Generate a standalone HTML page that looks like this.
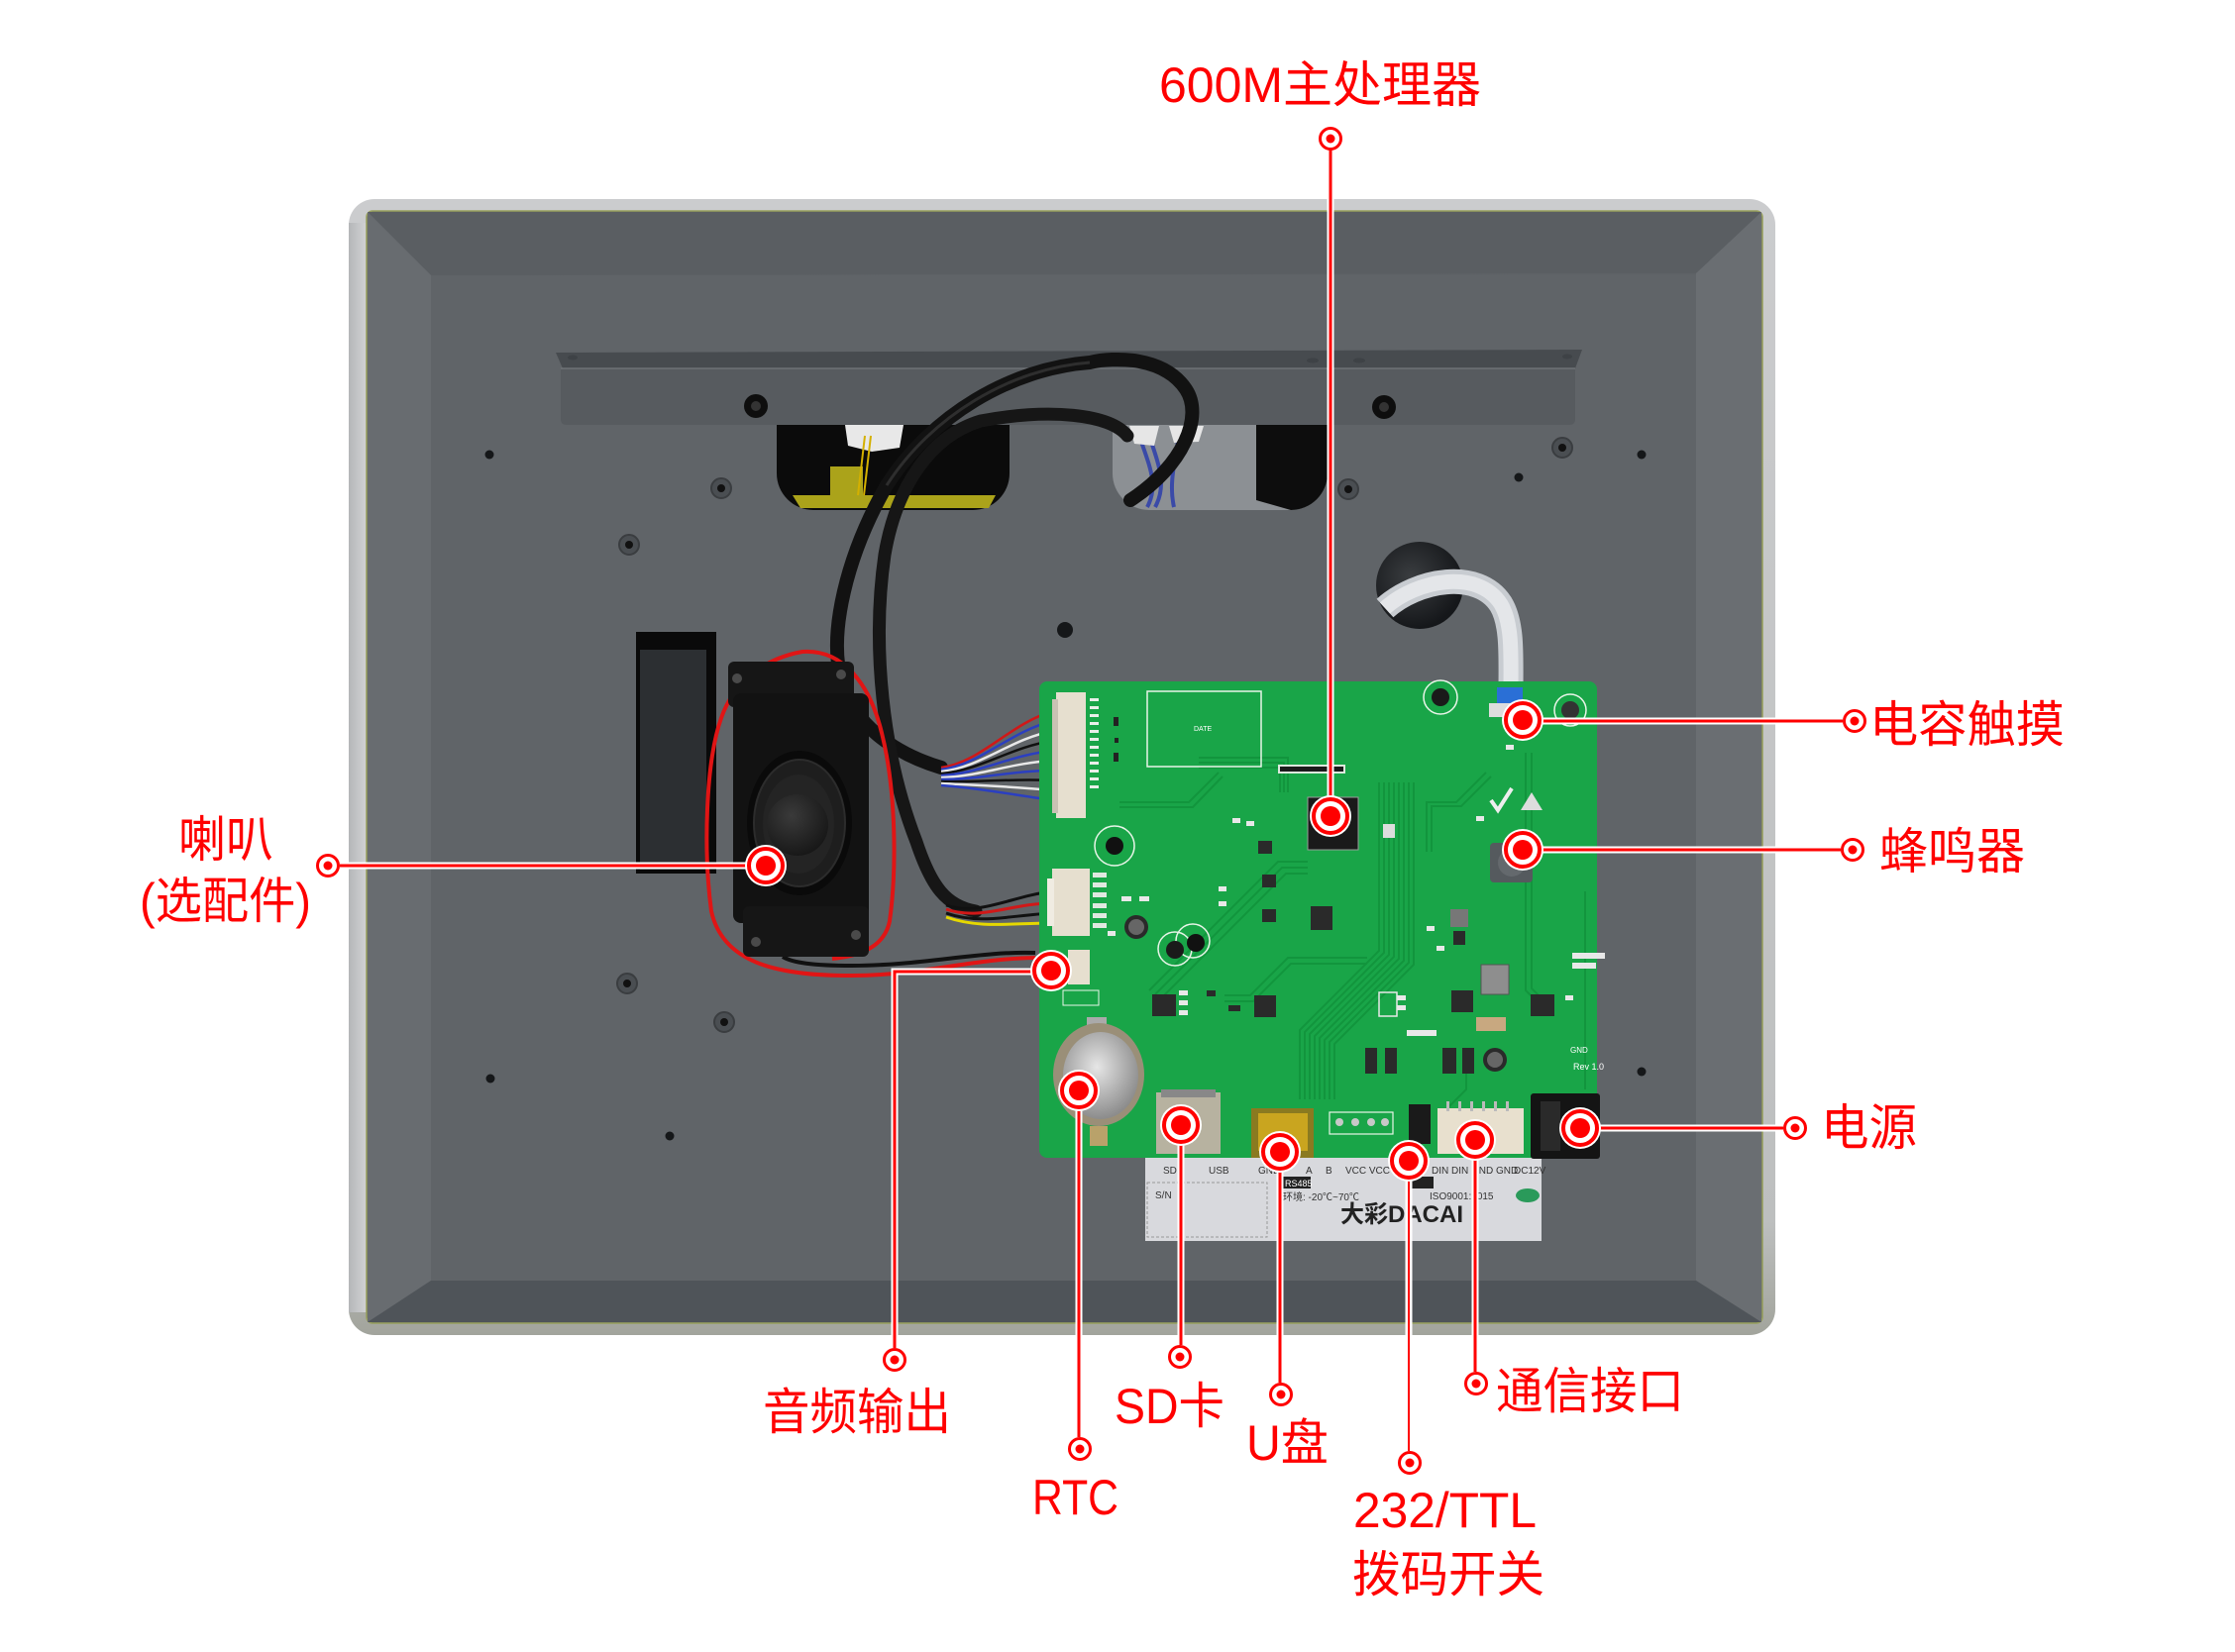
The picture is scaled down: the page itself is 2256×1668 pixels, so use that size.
<!DOCTYPE html>
<html><head><meta charset="utf-8"><style>
html,body{margin:0;padding:0;background:#fff;width:2256px;height:1668px;overflow:hidden}
svg{display:block}
.lb{font-family:"Liberation Sans","Noto Sans CJK SC",sans-serif;font-size:50px;fill:#f00}
.sm{font-family:"Liberation Sans","Noto Sans CJK SC",sans-serif;fill:#fff}
.st{font-family:"Liberation Sans","Noto Sans CJK SC",sans-serif;fill:#333}
</style></head><body>
<svg xmlns="http://www.w3.org/2000/svg" width="2256" height="1668" viewBox="0 0 2256 1668">
<defs>
<linearGradient id="brd" x1="0" y1="0" x2="0" y2="1"><stop offset="0" stop-color="#cbccce"/><stop offset="0.9" stop-color="#bdbfbf"/><stop offset="1" stop-color="#a2a49c"/></linearGradient>
<linearGradient id="brl" x1="0" y1="0" x2="1" y2="0"><stop offset="0" stop-color="#b4b6b8"/><stop offset="1" stop-color="#d2d3d5"/></linearGradient>
<radialGradient id="hole" cx="0.4" cy="0.4" r="0.6"><stop offset="0" stop-color="#3a3d40"/><stop offset="1" stop-color="#15171a"/></radialGradient>
<radialGradient id="dome" cx="0.4" cy="0.35" r="0.7"><stop offset="0" stop-color="#3a3a3a"/><stop offset="1" stop-color="#161616"/></radialGradient>
<radialGradient id="coin" cx="0.45" cy="0.4" r="0.6"><stop offset="0" stop-color="#e6e6e6"/><stop offset="1" stop-color="#8c8c8c"/></radialGradient>
</defs>
<rect width="2256" height="1668" fill="#fff"/>

<!-- Panel -->
<rect x="352" y="201" width="1440" height="1147" rx="26" fill="url(#brd)"/>
<rect x="352" y="225" width="18" height="1100" fill="url(#brl)"/>
<rect x="370" y="213" width="1409" height="1123" rx="6" fill="#5f6367" stroke="#97a05c" stroke-width="1.5"/>
<polygon points="371,214 1778,214 1712,276 435,278" fill="#5a5e62"/>
<polygon points="371,214 435,278 435,1293 371,1335" fill="#686c70"/>
<polygon points="1778,214 1778,1335 1712,1293 1712,276" fill="#6a6e72"/>
<polygon points="371,1335 435,1293 1712,1293 1778,1335" fill="#4f5459"/>
<rect x="435" y="278" width="1277" height="1015" fill="#606468"/>

<!-- holes / standoffs -->
<g fill="#151719">
<circle cx="494" cy="459" r="4.5"/><circle cx="1657" cy="459" r="4.5"/><circle cx="1533" cy="482" r="4.5"/>
<circle cx="495" cy="1089" r="4.5"/><circle cx="676" cy="1147" r="4.5"/><circle cx="1657" cy="1082" r="4.5"/>
<circle cx="1075" cy="636" r="8"/>
</g>
<g fill="#4a4e52" stroke="#3a3d40" stroke-width="2">
<circle cx="728" cy="493" r="10"/><circle cx="635" cy="550" r="10"/><circle cx="1577" cy="452" r="10"/>
<circle cx="1361" cy="494" r="10"/><circle cx="633" cy="993" r="10"/><circle cx="731" cy="1032" r="10"/>
</g>
<g fill="#111">
<circle cx="728" cy="493" r="4"/><circle cx="635" cy="550" r="4"/><circle cx="1577" cy="452" r="4"/>
<circle cx="1361" cy="494" r="4"/><circle cx="633" cy="993" r="4"/><circle cx="731" cy="1032" r="4"/>
</g>

<!-- openings -->
<path d="M784 429 L1019 429 L1019 478 A37 37 0 0 1 982 515 L821 515 A37 37 0 0 1 784 478 Z" fill="#0b0b0b"/>
<path d="M800 500 L1005 500 L998 513 L808 513 Z" fill="#aba31a"/>
<rect x="838" y="471" width="33" height="34" fill="#aba31a"/>
<path d="M853 429 L912 429 L908 452 L880 456 L856 450 Z" fill="#e8e8e8"/>
<path d="M873 440 L866 500 M879 440 L872 500" stroke="#d4b000" stroke-width="2"/>
<path d="M1123 429 L1340 429 L1340 478 A37 37 0 0 1 1303 515 L1160 515 A37 37 0 0 1 1123 478 Z" fill="#8c9094"/>
<path d="M1268 429 L1340 429 L1340 478 A37 37 0 0 1 1303 515 L1268 505 Z" fill="#0d0d0d"/>
<path d="M1150 440 C1160 470 1170 490 1158 512 M1160 440 C1170 470 1178 490 1166 512 M1190 440 C1185 470 1180 490 1185 512" stroke="#3a4aa8" stroke-width="4" fill="none"/>
<path d="M1140 430 L1170 430 L1165 450 L1145 448 Z M1180 430 L1215 430 L1210 446 L1185 447 Z" fill="#e6e6e6"/>

<!-- bracket -->
<path d="M561 356 L1597 353 L1590 372 L568 372 Z" fill="#474b4f"/>
<path d="M566 372 L1590 372 L1590 423 Q1590 429 1584 429 L572 429 Q566 429 566 423 Z" fill="#575b5f"/>
<path d="M566 372 L1590 372" stroke="#6e7276" stroke-width="1.5"/>
<circle cx="763" cy="410" r="12" fill="#0e0e0e"/><circle cx="763" cy="410" r="5" fill="#333"/>
<circle cx="1397" cy="411" r="12" fill="#0e0e0e"/><circle cx="1397" cy="411" r="5" fill="#333"/>
<g fill="#3e4246"><ellipse cx="1325" cy="364" rx="6" ry="2.5"/><ellipse cx="1372" cy="364" rx="6" ry="2.5"/><ellipse cx="1582" cy="360" rx="5" ry="2.5"/><ellipse cx="578" cy="361" rx="5" ry="2.5"/></g>

<!-- touch hole & ribbon -->
<circle cx="1433" cy="591" r="44" fill="url(#hole)"/>
<path d="M1398 614 C1430 585 1492 574 1515 610 C1527 630 1525 662 1525 700" stroke="#c8ccd1" stroke-width="25" fill="none"/>
<path d="M1398 614 C1430 585 1492 574 1515 610 C1527 630 1525 662 1525 700" stroke="#e4e6e9" stroke-width="15" fill="none"/>

<!-- speaker slot -->
<rect x="642" y="638" width="81" height="244" fill="#0a0a0a"/>
<rect x="646" y="656" width="67" height="222" fill="#2c2f32"/>

<!-- cables -->
<path d="M1141 505 C1195 470 1215 420 1197 393 C1175 360 1125 360 1100 366 C1020 372 940 420 895 490 C855 560 835 640 850 690 C862 730 900 760 950 775" stroke="#121212" stroke-width="14" fill="none" stroke-linecap="round"/>
<path d="M1138 440 C1120 418 1060 412 990 425 C940 440 905 490 893 560 C880 650 890 760 925 850 C940 895 955 915 985 920" stroke="#161616" stroke-width="13" fill="none" stroke-linecap="round"/>
<path d="M1100 366 C1020 372 940 420 895 490" stroke="#2e2e2e" stroke-width="3" fill="none"/>

<!-- speaker -->
<path d="M1045 967 C980 968 930 985 860 985 C790 985 730 975 718 920 C710 860 712 770 728 725 C740 690 770 665 810 658 C850 655 878 690 890 740 C905 800 905 880 898 930 C893 955 870 965 840 968" stroke="#e01515" stroke-width="4" fill="none"/>
<path d="M1045 962 C990 960 930 975 860 975 C820 975 800 972 790 966" stroke="#111" stroke-width="4" fill="none"/>
<rect x="735" y="668" width="127" height="46" rx="6" fill="#161616"/>
<rect x="740" y="700" width="137" height="232" rx="8" fill="#121212"/>
<rect x="750" y="915" width="127" height="51" rx="6" fill="#161616"/>
<g fill="#4a4a4a"><circle cx="744" cy="685" r="5"/><circle cx="849" cy="681" r="5"/><circle cx="763" cy="951" r="5"/><circle cx="864" cy="944" r="5"/></g>
<ellipse cx="807" cy="831" rx="53" ry="73" fill="#0a0a0a"/>
<ellipse cx="807" cy="831" rx="46" ry="64" fill="#1e1e1e" stroke="#2c2c2c" stroke-width="2"/>
<ellipse cx="806" cy="832" rx="36" ry="50" fill="#242424"/>
<circle cx="805" cy="833" r="31" fill="url(#dome)"/>

<!-- wires to PCB -->
<g fill="none" stroke-width="2.5">
<path d="M950 775 C990 770 1020 730 1063 718" stroke="#d01818"/>
<path d="M950 777 C990 772 1020 738 1063 728" stroke="#2b3fc0"/>
<path d="M950 779 C990 775 1020 746 1063 738" stroke="#e8e8e8"/>
<path d="M950 781 C990 778 1020 754 1063 748" stroke="#111"/>
<path d="M950 783 C990 781 1020 762 1063 758" stroke="#2b3fc0"/>
<path d="M950 785 C990 784 1020 770 1063 768" stroke="#e8e8e8"/>
<path d="M950 787 C990 787 1020 778 1063 778" stroke="#2b3fc0"/>
<path d="M950 789 C990 790 1020 786 1063 788" stroke="#111"/>
<path d="M950 791 C990 793 1020 794 1063 798" stroke="#e8e8e8"/>
<path d="M950 793 C990 796 1020 802 1063 808" stroke="#2b3fc0"/>
</g>
<g fill="none" stroke-width="3">
<path d="M955 914 C990 925 1020 905 1062 900" stroke="#111"/>
<path d="M955 918 C990 930 1020 912 1062 912" stroke="#d01818"/>
<path d="M955 922 C990 934 1020 924 1062 922" stroke="#111"/>
<path d="M955 926 C990 938 1020 932 1062 932" stroke="#e6d800"/>
</g>

<!-- sticker -->
<rect x="1156" y="1160" width="400" height="93" fill="#d8d9dd"/>
<rect x="1158" y="1194" width="121" height="55" fill="none" stroke="#999" stroke-width="1" stroke-dasharray="3 2"/>
<g class="st" font-size="10">
<text x="1174" y="1185">SD</text><text x="1220" y="1185">USB</text><text x="1270" y="1185">GND</text>
<text x="1318" y="1185">A</text><text x="1338" y="1185">B</text><text x="1358" y="1185">VCC VCC</text>
<text x="1445" y="1185">DIN DIN GND GND</text><text x="1528" y="1185">DC12V</text>
<text x="1166" y="1210">S/N</text><text x="1295" y="1212">环境: -20℃~70℃</text>
<text x="1443" y="1211">ISO9001:2015</text>
</g>
<rect x="1295" y="1188" width="28" height="12" fill="#222"/><text class="sm" x="1297" y="1198" font-size="9">RS485</text>
<rect x="1425" y="1188" width="22" height="12" fill="#222"/>
<ellipse cx="1542" cy="1207" rx="12" ry="7" fill="#2a9a5a"/>
<text x="1353" y="1234" font-family="'Liberation Sans','Noto Sans CJK SC',sans-serif" font-size="24" font-weight="bold" fill="#222">大彩DACAI</text>

<!-- PCB -->
<rect x="1049" y="688" width="563" height="481" rx="8" fill="#19a548"/>
<g stroke="#12953d" stroke-width="2" fill="none">
<path d="M1392 790 V960 L1312 1040 V1110"/><path d="M1397 790 V962 L1317 1042 V1110"/><path d="M1402 790 V964 L1322 1044 V1110"/>
<path d="M1407 790 V966 L1327 1046 V1110"/><path d="M1412 790 V968 L1332 1048 V1110"/><path d="M1417 790 V970 L1337 1050 V1110"/>
<path d="M1422 790 V972 L1342 1052 V1110"/><path d="M1427 790 V974 L1347 1054 V1110"/>
<path d="M1160 1000 L1290 870 H1320"/><path d="M1166 1004 L1294 876 H1320"/><path d="M1172 1008 L1298 882 H1320"/>
<path d="M1210 765 H1300 V800"/><path d="M1210 770 H1296 V800"/><path d="M1210 775 H1292 V800"/>
<path d="M1130 810 H1200 L1230 780"/><path d="M1130 815 H1204 L1234 784"/>
<path d="M1500 780 L1470 810 H1440 V860"/><path d="M1505 784 L1475 814 H1445 V860"/>
<path d="M1540 760 V1000 L1560 1020"/><path d="M1546 760 V998 L1566 1018"/>
<path d="M1236 1005 H1262 L1300 967 H1380"/><path d="M1236 1011 H1265 L1303 973 H1380"/>
<path d="M1480 1060 V1100 L1460 1120"/><path d="M1600 900 V1100"/>
</g>
<!-- silkscreen boxes -->
<rect x="1158" y="698" width="115" height="76" fill="none" stroke="#e8f5e8" stroke-width="1.5"/>
<text class="sm" x="1205" y="738" font-size="7">DATE</text>
<!-- J9 -->
<rect x="1066" y="699" width="30" height="127" fill="#e6dfcf"/>
<rect x="1062" y="706" width="6" height="115" fill="#c8c2b4"/>
<g fill="#f2f2f2"><rect x="1100" y="702" width="14" height="118" fill="none" stroke="#dfe" stroke-width="0"/></g>
<g fill="#e9efe9">
<rect x="1100" y="705" width="9" height="3"/><rect x="1100" y="713" width="9" height="3"/><rect x="1100" y="721" width="9" height="3"/>
<rect x="1100" y="729" width="9" height="3"/><rect x="1100" y="737" width="9" height="3"/><rect x="1100" y="745" width="9" height="3"/>
<rect x="1100" y="753" width="9" height="3"/><rect x="1100" y="761" width="9" height="3"/><rect x="1100" y="769" width="9" height="3"/>
<rect x="1100" y="777" width="9" height="3"/><rect x="1100" y="785" width="9" height="3"/><rect x="1100" y="793" width="9" height="3"/>
</g>
<g fill="#222"><rect x="1124" y="724" width="5" height="9"/><rect x="1124" y="760" width="5" height="9"/><rect x="1125" y="745" width="4" height="5"/></g>
<!-- CPU area -->
<g fill="#dde8dd"><rect x="1290" y="772" width="68" height="9"/></g>
<g fill="#1b1b1b"><rect x="1292" y="774" width="64" height="5"/></g>
<rect x="1320" y="805" width="51" height="53" fill="#1a1a1a" stroke="#9a9a9a" stroke-width="1"/>
<rect x="1396" y="832" width="12" height="14" fill="#ddd"/>
<g fill="#2a2a2a">
<rect x="1270" y="849" width="14" height="13"/><rect x="1274" y="883" width="14" height="13"/><rect x="1274" y="918" width="14" height="13"/>
<rect x="1323" y="915" width="22" height="24"/><rect x="1163" y="1004" width="24" height="22"/><rect x="1266" y="1005" width="22" height="22"/>
<rect x="1465" y="1000" width="22" height="22"/><rect x="1545" y="1004" width="24" height="22"/><rect x="1467" y="940" width="12" height="14"/>
<rect x="1456" y="1058" width="14" height="26"/><rect x="1476" y="1058" width="12" height="26"/>
<rect x="1378" y="1058" width="12" height="26"/><rect x="1398" y="1058" width="12" height="26"/>
<rect x="1218" y="1000" width="9" height="6"/><rect x="1240" y="1015" width="12" height="6"/>
</g>
<g fill="#e8e8e8">
<rect x="1244" y="826" width="8" height="5"/><rect x="1258" y="829" width="8" height="5"/><rect x="1230" y="895" width="8" height="5"/>
<rect x="1230" y="910" width="8" height="5"/><rect x="1132" y="905" width="10" height="5"/><rect x="1150" y="905" width="10" height="5"/>
<rect x="1190" y="1000" width="9" height="5"/><rect x="1190" y="1010" width="9" height="5"/><rect x="1190" y="1020" width="9" height="5"/>
<rect x="1410" y="1005" width="9" height="5"/><rect x="1410" y="1015" width="9" height="5"/><rect x="1420" y="1040" width="30" height="6"/>
<rect x="1440" y="935" width="8" height="5"/><rect x="1450" y="955" width="8" height="5"/><rect x="1580" y="1005" width="8" height="5"/>
<rect x="1587" y="962" width="33" height="6"/><rect x="1587" y="972" width="24" height="6"/>
<rect x="1118" y="940" width="8" height="5"/><rect x="1490" y="824" width="8" height="5"/><rect x="1520" y="752" width="8" height="5"/>
</g>
<rect x="1392" y="1002" width="18" height="24" fill="none" stroke="#e8e8e8" stroke-width="1.5"/>
<!-- inductors / caps -->
<rect x="1495" y="974" width="28" height="30" fill="#8e8e8e" stroke="#555" stroke-width="1"/>
<rect x="1464" y="918" width="18" height="18" fill="#777"/>
<circle cx="1147" cy="936" r="12" fill="#2a2a2a"/><circle cx="1147" cy="936" r="8" fill="#666"/>
<circle cx="1509" cy="1070" r="12" fill="#2a2a2a"/><circle cx="1509" cy="1070" r="8" fill="#666"/>
<rect x="1490" y="1027" width="30" height="14" fill="#c8a880"/>
<!-- logos -->
<path d="M1505 808 L1512 818 L1526 796" stroke="#eee" stroke-width="4" fill="none"/>
<path d="M1535 818 L1546 800 L1557 818 Z" fill="#ddd"/>
<!-- mounting holes -->
<circle cx="1125" cy="854" r="20" fill="none" stroke="#e8f5e8" stroke-width="1.5"/><circle cx="1125" cy="854" r="9" fill="#111"/>
<circle cx="1186" cy="958" r="17" fill="none" stroke="#e8f5e8" stroke-width="1.5"/><circle cx="1204" cy="950" r="17" fill="none" stroke="#e8f5e8" stroke-width="1.5"/>
<circle cx="1186" cy="959" r="9" fill="#1a1a1a"/><circle cx="1207" cy="952" r="9" fill="#111"/>
<circle cx="1454" cy="704" r="17" fill="none" stroke="#e8f5e8" stroke-width="1.5"/><circle cx="1454" cy="704" r="9" fill="#1a1a1a"/>
<circle cx="1585" cy="717" r="16" fill="none" stroke="#e8f5e8" stroke-width="1.5"/><circle cx="1585" cy="717" r="9" fill="#333"/>
<!-- touch connector + fpc tip -->
<rect x="1511" y="694" width="26" height="17" fill="#2a6fd6"/>
<rect x="1503" y="710" width="28" height="14" fill="#ddd"/>
<!-- buzzer -->
<rect x="1504" y="851" width="43" height="40" rx="4" fill="#555a5e"/>
<circle cx="1526" cy="871" r="14" fill="#64696d"/>
<!-- J4 / J2 -->
<rect x="1062" y="877" width="38" height="68" fill="#e6dfcf"/><rect x="1057" y="887" width="7" height="48" fill="#f0ece2"/>
<rect x="1078" y="959" width="22" height="35" fill="#e6dfcf"/>
<g fill="#e0e8e0"><rect x="1103" y="881" width="14" height="5"/><rect x="1103" y="891" width="14" height="5"/><rect x="1103" y="901" width="14" height="5"/><rect x="1103" y="912" width="14" height="5"/><rect x="1103" y="922" width="14" height="5"/><rect x="1103" y="932" width="14" height="5"/></g>
<rect x="1073" y="1000" width="36" height="15" fill="none" stroke="#e8f5e8" stroke-width="1"/>
<!-- battery -->
<rect x="1097" y="1027" width="20" height="14" fill="#aaa"/>
<ellipse cx="1109" cy="1085" rx="46" ry="52" fill="#9a8f78"/>
<ellipse cx="1111" cy="1086" rx="38" ry="44" fill="url(#coin)"/>
<rect x="1100" y="1137" width="18" height="20" fill="#b9a26a"/>
<!-- SD / USB -->
<rect x="1167" y="1103" width="65" height="62" fill="#b7b2a0"/>
<rect x="1172" y="1100" width="55" height="8" fill="#888"/>
<rect x="1263" y="1119" width="63" height="50" fill="#8a7a20"/>
<rect x="1270" y="1124" width="50" height="38" fill="#c9a51f"/>
<!-- J3 pads -->
<rect x="1342" y="1123" width="64" height="22" fill="none" stroke="#e8f5e8" stroke-width="1.2"/>
<g fill="#c8c8c8"><circle cx="1352" cy="1133" r="4"/><circle cx="1368" cy="1133" r="4"/><circle cx="1384" cy="1133" r="4"/><circle cx="1398" cy="1133" r="4"/></g>
<!-- DIP / comms / power -->
<rect x="1422" y="1115" width="22" height="40" fill="#1a1a1a"/>
<rect x="1451" y="1119" width="87" height="46" fill="#e8e0ce"/>
<g fill="#bbb"><rect x="1460" y="1112" width="3" height="10"/><rect x="1472" y="1112" width="3" height="10"/><rect x="1484" y="1112" width="3" height="10"/><rect x="1496" y="1112" width="3" height="10"/><rect x="1508" y="1112" width="3" height="10"/><rect x="1520" y="1112" width="3" height="10"/></g>
<rect x="1545" y="1104" width="70" height="66" rx="3" fill="#141414"/>
<rect x="1555" y="1112" width="20" height="50" fill="#2a2a2a"/>
<text class="sm" x="1588" y="1080" font-size="9">Rev 1.0</text>
<text class="sm" x="1585" y="1063" font-size="8">GND</text>

<!-- connector lines -->
<g fill="none" stroke="#fff" stroke-width="7">
<path d="M1343 150 V824"/><path d="M1537 728 H1860"/><path d="M1537 858 H1858"/><path d="M343 874 H773"/>
<path d="M1061 981 H903 V1361"/><path d="M1089 1101 V1451"/><path d="M1192 1136 V1358"/><path d="M1292 1163 V1396"/>
<path d="M1422 1172 V1465"/><path d="M1489 1151 V1385"/><path d="M1595 1139 H1800"/>
</g>
<g fill="none" stroke="#f00" stroke-width="3">
<path d="M1343 150 V824"/><path d="M1537 728 H1860"/><path d="M1537 858 H1858"/><path d="M343 874 H773"/>
<path d="M1061 981 H903 V1361"/><path d="M1089 1101 V1451"/><path d="M1192 1136 V1358"/><path d="M1292 1163 V1396"/>
<path d="M1422 1172 V1465" stroke-width="2"/><path d="M1489 1151 V1385"/><path d="M1595 1139 H1800"/>
</g>

<!-- big markers -->
<g>
<g transform="translate(1343,824)"><circle r="21" fill="#fff"/><circle r="17" fill="none" stroke="#f00" stroke-width="4"/><circle r="10" fill="#f00"/></g>
<g transform="translate(1537,727)"><circle r="21" fill="#fff"/><circle r="17" fill="none" stroke="#f00" stroke-width="4"/><circle r="10" fill="#f00"/></g>
<g transform="translate(1537,858)"><circle r="21" fill="#fff"/><circle r="17" fill="none" stroke="#f00" stroke-width="4"/><circle r="10" fill="#f00"/></g>
<g transform="translate(773,874)"><circle r="21" fill="#fff"/><circle r="17" fill="none" stroke="#f00" stroke-width="4"/><circle r="10" fill="#f00"/></g>
<g transform="translate(1061,980)"><circle r="21" fill="#fff"/><circle r="17" fill="none" stroke="#f00" stroke-width="4"/><circle r="10" fill="#f00"/></g>
<g transform="translate(1089,1101)"><circle r="21" fill="#fff"/><circle r="17" fill="none" stroke="#f00" stroke-width="4"/><circle r="10" fill="#f00"/></g>
<g transform="translate(1192,1136)"><circle r="21" fill="#fff"/><circle r="17" fill="none" stroke="#f00" stroke-width="4"/><circle r="10" fill="#f00"/></g>
<g transform="translate(1292,1163)"><circle r="21" fill="#fff"/><circle r="17" fill="none" stroke="#f00" stroke-width="4"/><circle r="10" fill="#f00"/></g>
<g transform="translate(1422,1172)"><circle r="21" fill="#fff"/><circle r="17" fill="none" stroke="#f00" stroke-width="4"/><circle r="10" fill="#f00"/></g>
<g transform="translate(1489,1151)"><circle r="21" fill="#fff"/><circle r="17" fill="none" stroke="#f00" stroke-width="4"/><circle r="10" fill="#f00"/></g>
<g transform="translate(1595,1139)"><circle r="21" fill="#fff"/><circle r="17" fill="none" stroke="#f00" stroke-width="4"/><circle r="10" fill="#f00"/></g>
</g>

<!-- small markers -->
<g>
<g transform="translate(1343,140)"><circle r="10.5" fill="#fff" stroke="#f00" stroke-width="3"/><circle r="4.5" fill="#f00"/></g>
<g transform="translate(1872,728)"><circle r="10.5" fill="#fff" stroke="#f00" stroke-width="3"/><circle r="4.5" fill="#f00"/></g>
<g transform="translate(1870,858)"><circle r="10.5" fill="#fff" stroke="#f00" stroke-width="3"/><circle r="4.5" fill="#f00"/></g>
<g transform="translate(331,874)"><circle r="10.5" fill="#fff" stroke="#f00" stroke-width="3"/><circle r="4.5" fill="#f00"/></g>
<g transform="translate(903,1373)"><circle r="10.5" fill="#fff" stroke="#f00" stroke-width="3"/><circle r="4.5" fill="#f00"/></g>
<g transform="translate(1090,1463)"><circle r="10.5" fill="#fff" stroke="#f00" stroke-width="3"/><circle r="4.5" fill="#f00"/></g>
<g transform="translate(1191,1370)"><circle r="10.5" fill="#fff" stroke="#f00" stroke-width="3"/><circle r="4.5" fill="#f00"/></g>
<g transform="translate(1293,1408)"><circle r="10.5" fill="#fff" stroke="#f00" stroke-width="3"/><circle r="4.5" fill="#f00"/></g>
<g transform="translate(1423,1477)"><circle r="10.5" fill="#fff" stroke="#f00" stroke-width="3"/><circle r="4.5" fill="#f00"/></g>
<g transform="translate(1490,1397)"><circle r="10.5" fill="#fff" stroke="#f00" stroke-width="3"/><circle r="4.5" fill="#f00"/></g>
<g transform="translate(1812,1139)"><circle r="10.5" fill="#fff" stroke="#f00" stroke-width="3"/><circle r="4.5" fill="#f00"/></g>
</g>

<!-- labels -->
<g class="lb">
<text x="1170" y="103" textLength="325" lengthAdjust="spacingAndGlyphs">600M主处理器</text>
<text x="1887" y="749" textLength="197" lengthAdjust="spacingAndGlyphs">电容触摸</text>
<text x="1897" y="877" textLength="147" lengthAdjust="spacingAndGlyphs">蜂鸣器</text>
<text x="180" y="865" textLength="96" lengthAdjust="spacingAndGlyphs">喇叭</text>
<text x="141" y="927" textLength="173" lengthAdjust="spacingAndGlyphs">(选配件)</text>
<text x="1838" y="1156" textLength="97" lengthAdjust="spacingAndGlyphs">电源</text>
<text x="770" y="1443" textLength="190" lengthAdjust="spacingAndGlyphs">音频输出</text>
<text x="1042" y="1529" textLength="87" lengthAdjust="spacingAndGlyphs">RTC</text>
<text x="1125" y="1437" textLength="111" lengthAdjust="spacingAndGlyphs">SD卡</text>
<text x="1258" y="1474" textLength="83" lengthAdjust="spacingAndGlyphs">U盘</text>
<text x="1366" y="1542" textLength="185" lengthAdjust="spacingAndGlyphs">232/TTL</text>
<text x="1365" y="1607" textLength="194" lengthAdjust="spacingAndGlyphs">拨码开关</text>
<text x="1510" y="1422" textLength="190" lengthAdjust="spacingAndGlyphs">通信接口</text>
</g>
</svg>
</body></html>
